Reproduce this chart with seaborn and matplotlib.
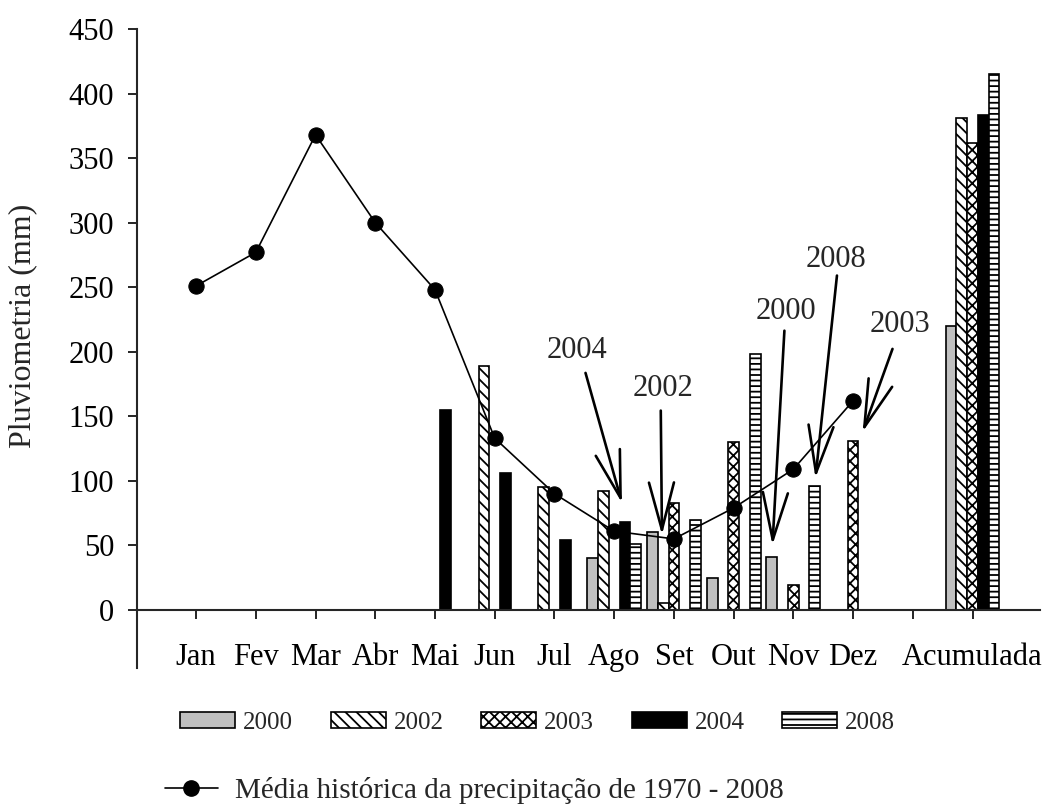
import numpy as np
import pandas as pd
import matplotlib
matplotlib.use('Agg')
import matplotlib.pyplot as plt
import seaborn as sns
from matplotlib.patches import Patch
from matplotlib.lines import Line2D

# categorias do eixo x (uma posicao vazia antes de "Acumulada")
categorias = ['Jan', 'Fev', 'Mar', 'Abr', 'Mai', 'Jun', 'Jul', 'Ago', 'Set',
              'Out', 'Nov', 'Dez', '', 'Acumulada']

# media historica 1970 - 2008 (mm)
meses_media = categorias[:12]
media = [251, 277, 368, 300, 248, 133, 90, 61, 55, 79, 109, 162]

# precipitacao por ano (mm)
anos = ['2000', '2002', '2003', '2004', '2008']
meses_2000 = ['Ago', 'Set', 'Out', 'Nov', 'Acumulada']
chuva_2000 = [40, 60, 25, 41, 220]
meses_2002 = ['Jun', 'Jul', 'Ago', 'Set', 'Acumulada']
chuva_2002 = [189, 95, 92, 5, 381]
meses_2003 = ['Set', 'Out', 'Nov', 'Dez', 'Acumulada']
chuva_2003 = [83, 130, 19, 131, 362]
meses_2004 = ['Mai', 'Jun', 'Jul', 'Ago', 'Acumulada']
chuva_2004 = [155, 106, 54, 68, 383]
meses_2008 = ['Ago', 'Set', 'Out', 'Nov', 'Acumulada']
chuva_2008 = [51, 70, 198, 96, 415]

cores = {'2000': '#c0c0c0', '2002': 'white', '2003': 'white', '2004': 'black', '2008': 'white'}
hachuras = ['', '\\\\\\', 'xxx', '', '---']

linhas = []
for ano, meses, chuva in [('2000', meses_2000, chuva_2000), ('2002', meses_2002, chuva_2002),
                          ('2003', meses_2003, chuva_2003), ('2004', meses_2004, chuva_2004),
                          ('2008', meses_2008, chuva_2008)]:
    for m, v in zip(meses, chuva):
        linhas.append({'mes': m, 'ano': ano, 'mm': v})
df = pd.DataFrame(linhas)

sns.set_theme(style='ticks')
plt.rcParams['font.family'] = ['Liberation Serif', 'DejaVu Serif']
plt.rcParams['hatch.linewidth'] = 1.3
plt.rcParams['axes.linewidth'] = 1.5

fig = plt.figure(figsize=(10.48, 8.10), dpi=100)
ax = fig.add_axes([0.1307, 0.1753, 0.8617, 0.7889])

sns.barplot(data=df, x='mes', y='mm', hue='ano', order=categorias, hue_order=anos,
            palette=cores, edgecolor='black', linewidth=1.2, width=0.9, saturation=1,
            legend=False, ax=ax, zorder=2)

for cont, h in zip(ax.containers, hachuras):
    for barra in cont:
        barra.set_hatch(h)

sns.lineplot(x=np.arange(len(meses_media)), y=media, color='black', marker='o',
             markersize=11, markeredgecolor='black', linewidth=1.2, ax=ax, zorder=5)

ax.set_xlim(-0.99, 14.13)
ax.set_ylim(-45, 450)
ax.set_yticks(np.arange(0, 451, 50))
ax.set_xticks(np.arange(len(categorias)))
ax.set_xticklabels(categorias)
ax.spines['bottom'].set_position(('data', 0))
ax.spines['top'].set_visible(False)
ax.spines['right'].set_visible(False)
ax.tick_params(axis='both', direction='out', length=6.5, width=1.2, labelsize=22, colors='black')
ax.tick_params(axis='x', pad=17)
ax.tick_params(axis='y', pad=10)
ax.set_xlabel('')
ax.set_ylabel('Pluviometria (mm)', fontsize=23)
ax.yaxis.set_label_coords(-0.11, 0.535)

# setas com os anos
setas = [('2004', (6.37, 200.6), (6.52, 183.6), (7.13, 82.9)),
         ('2002', (7.82, 171.2), (7.78, 154.4), (7.80, 58.1)),
         ('2000', (9.88, 230.8), (9.85, 216.3), (9.65, 50.3)),
         ('2008', (10.72, 271.1), (10.73, 259.0), (10.37, 102.2)),
         ('2003', (11.78, 220.8), (11.66, 202.2), (11.16, 137.9))]
for rotulo, pos_txt, ini, fim in setas:
    ax.text(pos_txt[0], pos_txt[1], rotulo, fontsize=22, ha='center', va='center', zorder=6)
    ax.annotate('', xy=fim, xytext=ini,
                arrowprops=dict(arrowstyle='->,head_length=34,head_width=9', mutation_scale=1,
                                color='black', lw=1.9, shrinkA=0, shrinkB=0), zorder=6)

handles = [Patch(facecolor=cores[a], edgecolor='black', hatch=h, linewidth=1.2)
           for a, h in zip(anos, hachuras)]
fig.legend(handles, anos, ncol=5, loc='center left', bbox_to_anchor=(180 / 1048, 1 - 723 / 810),
           frameon=False, fontsize=18, handlelength=2.2, handleheight=0.6, handletextpad=0.32,
           columnspacing=1.5, borderpad=0, borderaxespad=0)
linha = Line2D([0], [0], color='black', marker='o', markersize=11, linewidth=1.2)
fig.legend([linha], ['Média histórica da precipitação de 1970 - 2008'], loc='center left',
           bbox_to_anchor=(165 / 1048, 1 - 791 / 810), frameon=False, fontsize=21,
           handlelength=1.8, handletextpad=0.6, borderpad=0, borderaxespad=0)

fig.savefig('out.png', dpi=100)
